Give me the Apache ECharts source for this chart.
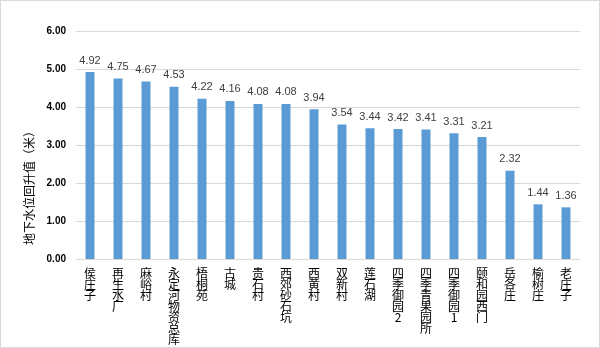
<!DOCTYPE html>
<html><head><meta charset="utf-8">
<script src="https://cdn.jsdelivr.net/npm/echarts@6/dist/echarts.min.js"></script>
<style>html,body{margin:0;padding:0;background:#fff}#c{width:598px;height:346px;border:1px solid #d9d9d9}</style>
</head><body><div id="c"></div>
<script>
var categories = ['侯庄子','再生水厂','麻峪村','永定河物资总库','梧桐苑','古城','贵石村','西郊砂石坑','西黄村','双新村','莲石湖','四季御园2','四季青果园所','四季御园1','颐和园西门','岳各庄','榆树庄','老庄子'];
var values = [4.92,4.75,4.67,4.53,4.22,4.16,4.08,4.08,3.94,3.54,3.44,3.42,3.41,3.31,3.21,2.32,1.44,1.36];
var yTitle = '地下水位回升值（米）';
var chart = echarts.init(document.getElementById('c'));
chart.setOption({
  animation:false,
  grid:{left:75,right:19,top:30,bottom:88},
  graphic:[{type:'text',left:22,top:124,rotation:Math.PI/2,
    style:{text:yTitle,fill:'#000',font:'12px "Noto Sans CJK SC"'}}],
  xAxis:{type:'category',data:categories,
    axisLine:{lineStyle:{color:'#d9d9d9'}},axisTick:{show:false},
    axisLabel:{interval:0,color:'#000',fontSize:12,lineHeight:11,margin:9,verticalAlign:'top',
      fontFamily:'Noto Sans CJK SC',formatter:function(v){return v.split('').join('\n');}}},
  yAxis:{type:'value',min:0,max:6,interval:1,
    axisLine:{show:false},axisTick:{show:false},
    splitLine:{lineStyle:{color:'#d9d9d9'}},
    axisLabel:{color:'#000',fontSize:10,fontWeight:'bold',margin:10,fontFamily:'Arial, Liberation Sans',
      formatter:function(v){return v.toFixed(2);}}},
  series:[{type:'bar',data:values,barWidth:9,
    itemStyle:{color:'#5b9bd5'},
    label:{show:true,position:'top',distance:6,color:'#404040',fontSize:11,fontFamily:'Liberation Sans',
      formatter:function(p){return p.value.toFixed(2);}}}]
});
</script></body></html>
